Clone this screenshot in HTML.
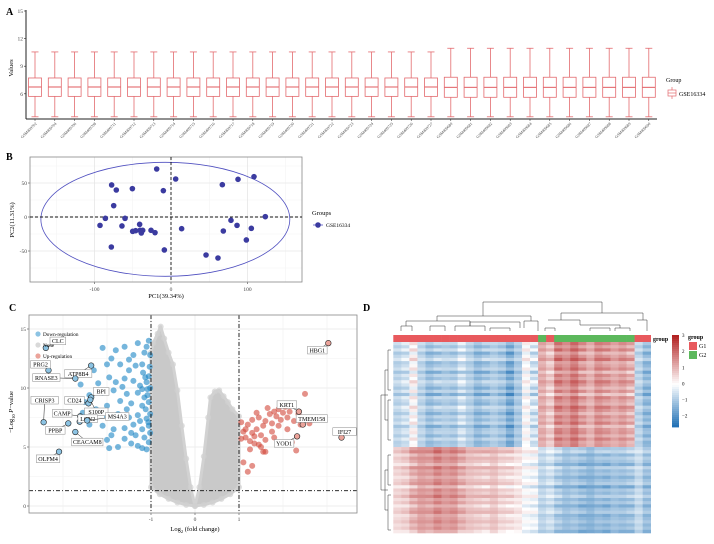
<!DOCTYPE html>
<html><head><meta charset="utf-8"><style>
body{margin:0;background:#fff}
svg{display:block;font-family:"Liberation Serif",serif}
</style></head><body>
<svg id="fig" width="714" height="544" viewBox="0 0 714 544" xmlns="http://www.w3.org/2000/svg">
<text x="6" y="15" font-size="10" font-weight="bold">A</text>
<text x="6" y="160" font-size="10" font-weight="bold">B</text>
<text x="9" y="311" font-size="10" font-weight="bold">C</text>
<text x="363" y="311" font-size="10" font-weight="bold">D</text>
<g id="A"></g>
<g id="B"></g>
<g id="C"></g>
<g id="D"></g>
</svg>
<script>
// ---------- Panel A data ----------
const sampleIds = ["GSM409702","GSM409704","GSM409706","GSM409708","GSM409711","GSM409712","GSM409713","GSM409714","GSM409715","GSM409716","GSM409717","GSM409718","GSM409719","GSM409720","GSM409721","GSM409722","GSM409723","GSM409724","GSM409725","GSM409726","GSM409727","GSM409680","GSM409681","GSM409682","GSM409683","GSM409684","GSM409685","GSM409686","GSM409687","GSM409688","GSM409689","GSM409690"];
const whiskerHigh = [10.55,10.55,10.55,10.55,10.55,10.55,10.55,10.55,10.55,10.55,10.55,10.55,10.55,10.55,10.55,10.55,10.55,10.55,10.55,10.55,10.55,10.95,10.95,10.95,10.95,10.95,10.95,10.95,10.95,10.95,10.95,10.95];
const q3Vals = [7.72,7.72,7.72,7.72,7.72,7.72,7.72,7.72,7.72,7.72,7.72,7.72,7.72,7.72,7.72,7.72,7.72,7.72,7.72,7.72,7.72,7.8,7.8,7.8,7.8,7.8,7.8,7.8,7.8,7.8,7.8,7.8];
const medianVals = [6.74,6.74,6.74,6.74,6.74,6.74,6.74,6.74,6.74,6.74,6.74,6.74,6.74,6.74,6.74,6.74,6.74,6.74,6.74,6.74,6.74,6.7,6.7,6.7,6.7,6.7,6.7,6.7,6.7,6.7,6.7,6.7];
const q1Vals = [5.72,5.72,5.72,5.72,5.72,5.72,5.72,5.72,5.72,5.72,5.72,5.72,5.72,5.72,5.72,5.72,5.72,5.72,5.72,5.72,5.72,5.62,5.62,5.62,5.62,5.62,5.62,5.62,5.62,5.62,5.62,5.62];
const whiskerLow = [3.5,3.5,3.5,3.5,3.5,3.5,3.5,3.5,3.5,3.5,3.5,3.5,3.5,3.5,3.5,3.5,3.5,3.5,3.5,3.5,3.5,3.5,3.5,3.5,3.5,3.5,3.5,3.5,3.5,3.5,3.5,3.5];
const aTicks = [6,9,12,15];

// ---------- Panel B data ----------
const pc1 = [-18.7,6.1,-77.6,-71.5,-50.5,-10.0,-74.9,-85.8,-60.1,-92.8,-64.1,-41.0,-46.2,-40.5,-50.1,-37.0,-38.8,-26.1,-20.9,-78.0,-8.7,13.9,67.1,87.6,108.5,123.3,78.4,86.3,68.4,105.0,98.5,45.8,61.4];
const pc2 = [70.6,55.9,47.1,39.7,41.7,38.7,16.7,-2.0,-2.0,-12.3,-13.2,-10.8,-20.1,-19.6,-21.1,-19.6,-23.5,-19.6,-23.0,-44.1,-48.5,-17.2,47.5,55.4,59.3,0.5,-4.9,-12.3,-20.6,-16.7,-33.8,-55.9,-60.3];
const ellipseCenter = [-7.4,-3.4];
const ellipseRadius = [162.7,83.8];
const bXTicks = [-100,0,100];
const bYTicks = [-50,0,50];

// ---------- Panel C data ----------
const downX = [-1.05,-1.1,-1.15,-1.3,-1.4,-1.6,-1.8,-1.9,-2.1,-2.0,-1.7,-1.5,-1.2,-1.05,-1.1,-1.25,-1.4,-1.6,-1.8,-1.95,-2.2,-2.4,-2.1,-1.85,-1.55,-1.3,-1.15,-1.05,-1.2,-1.45,-1.7,-2.0,-2.25,-2.5,-2.55,-2.3,-2.0,-1.75,-1.5,-1.3,-1.1,-1.05,-1.2,-1.4,-1.6,-1.85,-2.1,-1.9,-1.6,-1.35,-1.15,-1.05,-1.2,-1.45,-1.75,-1.95,-1.3,-1.1,-1.02,-1.02,-1.02,-1.02,-1.08,-1.12,-1.18,-1.35,-1.5,-2.3,-2.6,-1.65,-1.25,-1.45,-2.0,-1.55,-2.4,-1.03,-1.08,-1.13,-1.06,-1.2];
const downY = [14,13.5,13,13.8,12.8,13.5,13.2,12.5,13.4,12,12,11.5,12,11,10.5,10.2,10.6,10.8,10.5,10.9,10.4,9.4,9.6,9.8,9.5,9.6,9.2,8.8,8.5,8.7,8.9,8.5,8.2,8.8,7.9,7.5,7.6,7.8,7.5,7.7,7.4,6.8,6.5,6.9,6.6,6.5,6.8,6.0,5.7,6.0,5.8,5.4,4.9,5.3,5.0,4.9,5.1,4.8,12.8,10,7.8,6.2,9.9,8.2,11.3,11.9,12.4,11.5,10.3,10.1,7.2,6.2,5.6,8.2,6.9,11.8,9.4,10.9,7.1,9.9];
const upX = [1.05,1.1,1.15,1.2,1.25,1.3,1.35,1.4,1.45,1.5,1.55,1.6,1.3,1.45,1.6,1.7,1.75,1.85,1.9,1.95,2.0,2.05,2.1,2.15,2.2,1.8,1.65,2.25,2.35,2.5,2.4,2.1,1.9,1.75,2.0,2.3,1.55,1.25,1.1,1.3,1.2,1.5,1.35,1.15,1.6,1.8,2.6,2.2,1.4,1.05];
const upY = [7.1,6.3,5.8,6.9,5.5,6.2,5.9,6.5,5.2,6.0,6.8,5.6,7.3,7.5,7.2,7.8,7.0,7.6,8.2,7.3,7.9,8.4,7.5,8.0,8.6,8.0,8.3,7.2,7.8,9.5,6.9,6.5,6.8,6.3,5.3,4.7,4.6,4.8,3.7,3.4,2.9,5.0,5.3,6.5,4.6,5.8,7.0,5.4,7.9,5.7];
const noneLeftX = [0,-0.1,-0.2,-0.3,-0.4,-0.5,-0.6,-0.7,-0.78,-0.85,-0.95,-1,-1,-0.8,-0.6,-0.4,-0.2];
const noneLeftY = [0,1.6,4,6.8,9.8,12,13,14.2,15.2,14.6,13.8,13,1.6,1.0,0.6,0.3,0.1];
const noneRightX = [0,0.1,0.2,0.3,0.35,0.45,0.55,0.65,0.75,0.85,1,1,0.8,0.6,0.4,0.2];
const noneRightY = [0,1.6,4.2,7.5,9.2,9.7,9.8,9.3,8.8,8.2,7.6,1.6,1.0,0.6,0.3,0.1];
const labelNames = ["CLC","PRG2","ATP8B4","RNASE3","BPI","CD24","S100P","CRISP3","CAMP","LCN2","MS4A3","PPBP","CEACAM8","OLFM4","HBG1","KRT1","TMEM158","IFI27","YOD1"];
const labelX = [-3.39,-3.33,-2.36,-2.72,-2.36,-2.42,-2.38,-3.44,-2.61,-2.62,-2.45,-2.88,-2.72,-3.09,3.03,2.36,2.45,3.33,2.32];
const labelY = [13.4,11.5,11.9,10.8,9.2,8.7,9.0,7.1,7.6,7.15,7.25,7.0,6.27,4.6,13.8,8.0,6.9,5.8,5.9];
const cXTicks = [-1,0,1];
const cYTicks = [0,5,10,15];
const pThreshold = 1.3;
const fcThreshold = 1;

// ---------- Panel D data ----------
const colGroup = ["G1","G1","G1","G1","G1","G1","G1","G1","G1","G1","G1","G1","G1","G1","G1","G1","G1","G1","G2","G1","G2","G2","G2","G2","G2","G2","G2","G2","G2","G2","G1","G1"];
const topProfile = [-0.8,-0.6,0.1,-0.8,-1.2,-1.0,-0.9,-1.0,-0.6,-0.9,-1.3,-1.1,-0.9,-1.1,-1.6,-1.0,0.0,-0.6,1.1,0.7,1.6,1.4,1.8,1.3,1.0,1.5,1.3,1.1,1.3,1.0,-0.8,-1.3];
const bottomProfile = [0.5,0.6,1.0,1.3,1.2,1.5,1.3,1.4,1.0,0.8,0.7,0.6,0.8,0.5,0.4,0.3,-0.1,-0.2,-0.8,-0.6,-1.0,-1.2,-1.1,-1.3,-1.4,-1.2,-1.3,-1.1,-1.2,-1.1,-0.7,-1.2];
const rowOffset = [0.3,-0.1,0.4,-0.3,0.1,0.5,-0.2,0.0,0.3,-0.4,0.2,-0.1,0.4,0.1,-0.3,0.2,-0.5,0.3,0.0,-0.2,0.4,0.1,-0.3,0.2,-0.1,0.3,-0.4,0.1,0.2,-0.2,0.3,-0.1,0.0,
 0.2,0.5,-0.1,0.3,0.1,-0.3,0.4,0.0,0.2,-0.2,0.1,0.3,-0.4,0.2,0.0,0.4,-0.1,0.2,-0.3,0.1,0.3,-0.2,0.0,0.2,-0.1,0.1,-0.3];
const topRows = 33;
const cbTicks = [-2,-1,0,1,2,3];

const NS="http://www.w3.org/2000/svg";
function mk(parent,tag,attrs,text){const e=document.createElementNS(NS,tag);for(const k in attrs)e.setAttribute(k,attrs[k]);if(text!==undefined)e.textContent=text;parent.appendChild(e);return e;}

// ================= Panel A =================
(function(){
 const g=document.getElementById('A');
 const ay=v=>11+(15-v)*9.2, ax=i=>35+i*19.8;
 const yAxis=mk(g,'line',{x1:26,y1:10,x2:26,y2:119,stroke:'#222','stroke-width':1});
 
 
 const xAxis=mk(g,'line',{x1:26,y1:119,x2:657,y2:119,stroke:'#222','stroke-width':1});
 
 
 aTicks.forEach(t=>{
  mk(g,'line',{x1:24,y1:ay(t),x2:26,y2:ay(t),stroke:'#222','stroke-width':0.6});
  const tl=mk(g,'text',{x:23,y:ay(t)+2,'font-size':5.5,'text-anchor':'end',fill:'#444'},t);
  
  
 });
 const yt=mk(g,'text',{x:13,y:68,'font-size':6.5,'text-anchor':'middle',transform:'rotate(-90 13 68)'},'Values');
 
 
 const col='#e36a6e';
 sampleIds.forEach((s,i)=>{
  const cx=ax(i),w=13;
  const bx=mk(g,'g',{});
  
  
  mk(bx,'line',{x1:cx,y1:ay(whiskerHigh[i]),x2:cx,y2:ay(q3Vals[i]),stroke:col,'stroke-width':0.8});
  mk(bx,'line',{x1:cx,y1:ay(q1Vals[i]),x2:cx,y2:ay(whiskerLow[i]),stroke:col,'stroke-width':0.8});
  mk(bx,'line',{x1:cx-3.5,y1:ay(whiskerHigh[i]),x2:cx+3.5,y2:ay(whiskerHigh[i]),stroke:col,'stroke-width':0.8});
  mk(bx,'line',{x1:cx-3.5,y1:ay(whiskerLow[i]),x2:cx+3.5,y2:ay(whiskerLow[i]),stroke:col,'stroke-width':0.8});
  mk(bx,'rect',{x:cx-w/2,y:ay(q3Vals[i]),width:w,height:ay(q1Vals[i])-ay(q3Vals[i]),fill:'#fff',stroke:col,'stroke-width':0.8});
  mk(bx,'line',{x1:cx-w/2,y1:ay(medianVals[i]),x2:cx+w/2,y2:ay(medianVals[i]),stroke:col,'stroke-width':1.1});
  mk(g,'line',{x1:cx,y1:119,x2:cx,y2:121,stroke:'#222','stroke-width':0.5});
  const lb=mk(g,'text',{x:cx+2,y:124,'font-size':4,'text-anchor':'end',fill:'#444',transform:`rotate(-45 ${cx+2} 124)`},s);
  
  
 });
 const lt=mk(g,'text',{x:666,y:82,'font-size':6},'Group');
 
 
 const li=mk(g,'g',{});
 
 
 mk(li,'line',{x1:672,y1:87,x2:672,y2:99,stroke:col,'stroke-width':0.7});
 mk(li,'rect',{x:668,y:90,width:8,height:6,fill:'#fff',stroke:col,'stroke-width':0.7});
 mk(li,'line',{x1:668,y1:93,x2:676,y2:93,stroke:col,'stroke-width':0.7});
 mk(li,'text',{x:679,y:96,'font-size':6},'GSE16334');
})();

// ================= Panel B =================
(function(){
 const g=document.getElementById('B');
 const bx=v=>171+v*0.765, by=v=>217-v*0.68;
 [-150,-50,50,150].forEach(v=>mk(g,'line',{x1:bx(v),y1:157,x2:bx(v),y2:282,stroke:'#f2f2f2','stroke-width':0.5}));
 [-75,-25,25,75].forEach(v=>mk(g,'line',{x1:30,y1:by(v),x2:302,y2:by(v),stroke:'#f2f2f2','stroke-width':0.5}));
 bXTicks.forEach(v=>{mk(g,'line',{x1:bx(v),y1:157,x2:bx(v),y2:282,stroke:'#e6e6e6','stroke-width':0.8});
  mk(g,'line',{x1:bx(v),y1:282,x2:bx(v),y2:284,stroke:'#444','stroke-width':0.6});
  const t=mk(g,'text',{x:bx(v),y:291,'font-size':5.5,'text-anchor':'middle',fill:'#444'},v);
  
  });
 bYTicks.forEach(v=>{mk(g,'line',{x1:30,y1:by(v),x2:302,y2:by(v),stroke:'#e6e6e6','stroke-width':0.8});
  mk(g,'line',{x1:28,y1:by(v),x2:30,y2:by(v),stroke:'#444','stroke-width':0.6});
  const t=mk(g,'text',{x:27,y:by(v)+2,'font-size':5.5,'text-anchor':'end',fill:'#444'},v);
  
  });
 const fr=mk(g,'rect',{x:30,y:157,width:272,height:125,fill:'none',stroke:'#888','stroke-width':0.8});
 
 
 const el=mk(g,'ellipse',{cx:bx(ellipseCenter[0]),cy:by(ellipseCenter[1]),rx:ellipseRadius[0]*0.765,ry:ellipseRadius[1]*0.68,fill:'none',stroke:'#5050c0','stroke-width':0.8});
 
 
 mk(g,'line',{x1:bx(0),y1:157,x2:bx(0),y2:282,stroke:'#111','stroke-width':0.9,'stroke-dasharray':'3,2'});
 mk(g,'line',{x1:30,y1:by(0),x2:302,y2:by(0),stroke:'#111','stroke-width':0.9,'stroke-dasharray':'3,2'});
 pc1.forEach((v,i)=>{const c=mk(g,'circle',{cx:bx(v),cy:by(pc2[i]),r:2.8,fill:'#3b3ba0'});
  
  });
 const xt=mk(g,'text',{x:166,y:298,'font-size':6.5,'text-anchor':'middle'},'PC1(39.34%)');
 
 
 const yt=mk(g,'text',{x:14,y:220,'font-size':6.5,'text-anchor':'middle',transform:'rotate(-90 14 220)'},'PC2(11.31%)');
 
 
 const lt=mk(g,'text',{x:312,y:215,'font-size':6.5},'Groups');
 
 
 const le=mk(g,'g',{});
 
 
 mk(le,'line',{x1:313,y1:225,x2:323,y2:225,stroke:'#5050c0','stroke-width':0.8});
 mk(le,'circle',{cx:318,cy:225,r:2.8,fill:'#3b3ba0'});
 mk(le,'text',{x:326,y:227,'font-size':5.5},'GSE16334');
})();

// ================= Panel C =================
(function(){
 const g=document.getElementById('C');
 const cx=v=>195+v*44, cy=v=>506-v*11.8;
 [-3,-2,2,3].forEach(v=>mk(g,'line',{x1:cx(v),y1:315,x2:cx(v),y2:513,stroke:'#f0f0f0','stroke-width':0.6}));
 [2.5,7.5,12.5].forEach(v=>mk(g,'line',{x1:29,y1:cy(v),x2:357,y2:cy(v),stroke:'#f2f2f2','stroke-width':0.5}));
 cXTicks.forEach(v=>{mk(g,'line',{x1:cx(v),y1:315,x2:cx(v),y2:513,stroke:'#e8e8e8','stroke-width':0.7});
  mk(g,'line',{x1:cx(v),y1:513,x2:cx(v),y2:515,stroke:'#444','stroke-width':0.6});
  const t=mk(g,'text',{x:cx(v),y:521,'font-size':5.5,'text-anchor':'middle',fill:'#444'},v);
  
  });
 cYTicks.forEach(v=>{mk(g,'line',{x1:29,y1:cy(v),x2:357,y2:cy(v),stroke:'#e8e8e8','stroke-width':0.7});
  mk(g,'line',{x1:27,y1:cy(v),x2:29,y2:cy(v),stroke:'#444','stroke-width':0.6});
  const t=mk(g,'text',{x:26,y:cy(v)+2,'font-size':5.5,'text-anchor':'end',fill:'#444'},v);
  
  });
 const pl=(xs,ys)=>xs.map((x,i)=>cx(x)+','+cy(ys[i])).join(' ');
 const nl=mk(g,'polygon',{points:pl(noneLeftX,noneLeftY),fill:'#c9c9c9',stroke:'#d2d2d2','stroke-width':3,'stroke-linejoin':'round'});
 
 
 const nr=mk(g,'polygon',{points:pl(noneRightX,noneRightY),fill:'#c9c9c9',stroke:'#d2d2d2','stroke-width':3,'stroke-linejoin':'round'});
 
 
 noneLeftX.forEach((x,i)=>{const c=mk(g,'circle',{cx:cx(x),cy:cy(noneLeftY[i]),r:3,fill:'#d0d0d0','fill-opacity':0.7});
  
  });
 noneRightX.forEach((x,i)=>{const c=mk(g,'circle',{cx:cx(x),cy:cy(noneRightY[i]),r:3,fill:'#d0d0d0','fill-opacity':0.7});
  
  });
 downX.forEach((x,i)=>{const c=mk(g,'circle',{cx:cx(x),cy:cy(downY[i]),r:3,fill:'#1a86c4','fill-opacity':0.6});
  
  });
 upX.forEach((x,i)=>{const c=mk(g,'circle',{cx:cx(x),cy:cy(upY[i]),r:3,fill:'#d2473a','fill-opacity':0.6});
  
  });
 [-fcThreshold,fcThreshold].forEach(v=>{const l=mk(g,'line',{x1:cx(v),y1:315,x2:cx(v),y2:513,stroke:'#111','stroke-width':0.9,'stroke-dasharray':'4,2,1,2'});
  
  });
 const hl=mk(g,'line',{x1:29,y1:cy(pThreshold),x2:357,y2:cy(pThreshold),stroke:'#111','stroke-width':0.9,'stroke-dasharray':'4,2,1,2'});
 
 
 const offX=[12,-8,-13,-29,10,-14,6,1,-18,8,30,-13,12,-11,-11,-12,9,3,-13];
 const offY=[-7,-6,8,-1,-6,-3,12,-22,-3,-3,-4,7,10,7,7,-7,-6,-6,7];
 labelNames.forEach((n,i)=>{
  const px=cx(labelX[i]),py=cy(labelY[i]);
  const lx=px+offX[i],ly=py+offY[i];
  const w=n.length*3.9+4;
  const lg=mk(g,'g',{});
  
  
  mk(lg,'line',{x1:px,y1:py,x2:lx,y2:ly,stroke:'#222','stroke-width':0.5});
  mk(lg,'circle',{cx:px,cy:py,r:2.8,fill:labelX[i]<0?'#8cc3e3':'#eba39a',stroke:'#222','stroke-width':0.6});
  mk(lg,'rect',{x:lx-w/2,y:ly-3.8,width:w,height:7.6,fill:'#fff',stroke:'#888','stroke-width':0.5});
  mk(lg,'text',{x:lx,y:ly+2.2,'font-size':6,'text-anchor':'middle'},n);
 });
 const leg=[['Down-regulation','#8cc3e3',334],['None','#d9d9d9',345],['Up-regulation','#eba39a',356]];
 leg.forEach(l=>{const e=mk(g,'g',{});
  
  
  mk(e,'circle',{cx:38,cy:l[2],r:2.6,fill:l[1]});
  mk(e,'text',{x:43,y:l[2]+2,'font-size':5.2},l[0]);});
 const fr=mk(g,'rect',{x:29,y:315,width:328,height:198,fill:'none',stroke:'#888','stroke-width':0.8});
 
 
 const xt=mk(g,'text',{x:195,y:531,'font-size':6.5,'text-anchor':'middle'});
 xt.innerHTML='Log<tspan font-size="4.5" dy="2">2</tspan><tspan dy="-2"> (fold change)</tspan>';
 
 
 const yt=mk(g,'text',{x:13,y:412,'font-size':6.5,'text-anchor':'middle',transform:'rotate(-90 13 412)'});
 yt.innerHTML='−Log<tspan font-size="4.5" dy="2">10</tspan><tspan dy="-2"> </tspan><tspan font-style="italic">P</tspan>−value';
 
 
})();

// ================= Panel D =================
(function(){
 const g=document.getElementById('D');
 const x0=393.3,x1=650.7,y0=342,y1=533;
 const nc=colGroup.length,nr=rowOffset.length;
 const cw=(x1-x0)/nc,rh=(y1-y0)/nr;
 function color(v){
  v=Math.max(-2.6,Math.min(3,v));
  let a,b,t;
  if(v<0){a=[255,255,255];b=[33,113,181];t=-v/2.6;}else{a=[255,255,255];b=[178,34,34];t=v/3;}
  const c=a.map((q,k)=>Math.round(q+(b[k]-q)*t));
  return `rgb(${c[0]},${c[1]},${c[2]})`;
 }
 for(let r=0;r<nr;r++){for(let c=0;c<nc;c++){
  const base=r<topRows?topProfile[c]:bottomProfile[c];
  const v=base+rowOffset[r]*(1+((c%3)-1)*0.3);
  const cell=mk(g,'rect',{x:x0+c*cw,y:y0+r*rh,width:cw+0.3,height:rh+0.3,fill:color(v)});
  
  
 }}
 colGroup.forEach((gr,c)=>{const a=mk(g,'rect',{x:x0+c*cw,y:335,width:cw+0.3,height:7,fill:gr==='G1'?'#e8595d':'#5cb85c'});
  
  });
 const gl=mk(g,'text',{x:653,y:341,'font-size':6,'font-weight':'bold'},'group');
 
 
 const dp='M483,316V302H602V313 M437,321V316H531V321 M561,317V313H643V320 M406,326V321H470V326 M470,326V322H520V328 M524,328V321H538V331 M561,317V320 M548,320H580V325 M580,325H620V328 M637,320H647V331 M401,331V326H412V331 M430,331V326H445V331 M455,331V326H485V331 M490,331V328H510V331 M545,331V328H555V331 M590,331V328H610V331 M615,331V328H630V331';
 const den=mk(g,'path',{d:dp,fill:'none',stroke:'#333','stroke-width':0.5});
 
 
 const rd='M388,395H381V490H388 M388,370H385V420H388 M388,470H385V510H388 M391,350H388V390H391 M391,400H388V440H391 M391,455H388V485H391 M391,495H388V530H391';
 const rden=mk(g,'path',{d:rd,fill:'none',stroke:'#333','stroke-width':0.5});
 
 
 const cb=mk(g,'g',{});
 
 
 const cbTop=335,cbBot=427,vmax=3,vmin=-2.7;
 const cby=v=>cbTop+(vmax-v)/(vmax-vmin)*(cbBot-cbTop);
 for(let i=0;i<46;i++){const v=vmax-(vmax-vmin)*i/46;
  mk(cb,'rect',{x:672,y:cbTop+i*(cbBot-cbTop)/46,width:7,height:(cbBot-cbTop)/46+0.4,fill:color(v)});}
 cbTicks.forEach(t=>{const tl=mk(cb,'text',{x:682,y:cby(t)+2,'font-size':5},t<0?'−'+(-t):t);
  
  });
 const lt=mk(g,'text',{x:688,y:339,'font-size':6,'font-weight':'bold'},'group');
 
 
 [['G1','#e8595d',342],['G2','#5cb85c',351]].forEach(l=>{const e=mk(g,'g',{});
  
  
  mk(e,'rect',{x:689,y:l[2],width:8,height:8,fill:l[1]});
  mk(e,'text',{x:699,y:l[2]+6,'font-size':6},l[0]);});
})();
</script>
</body></html>
